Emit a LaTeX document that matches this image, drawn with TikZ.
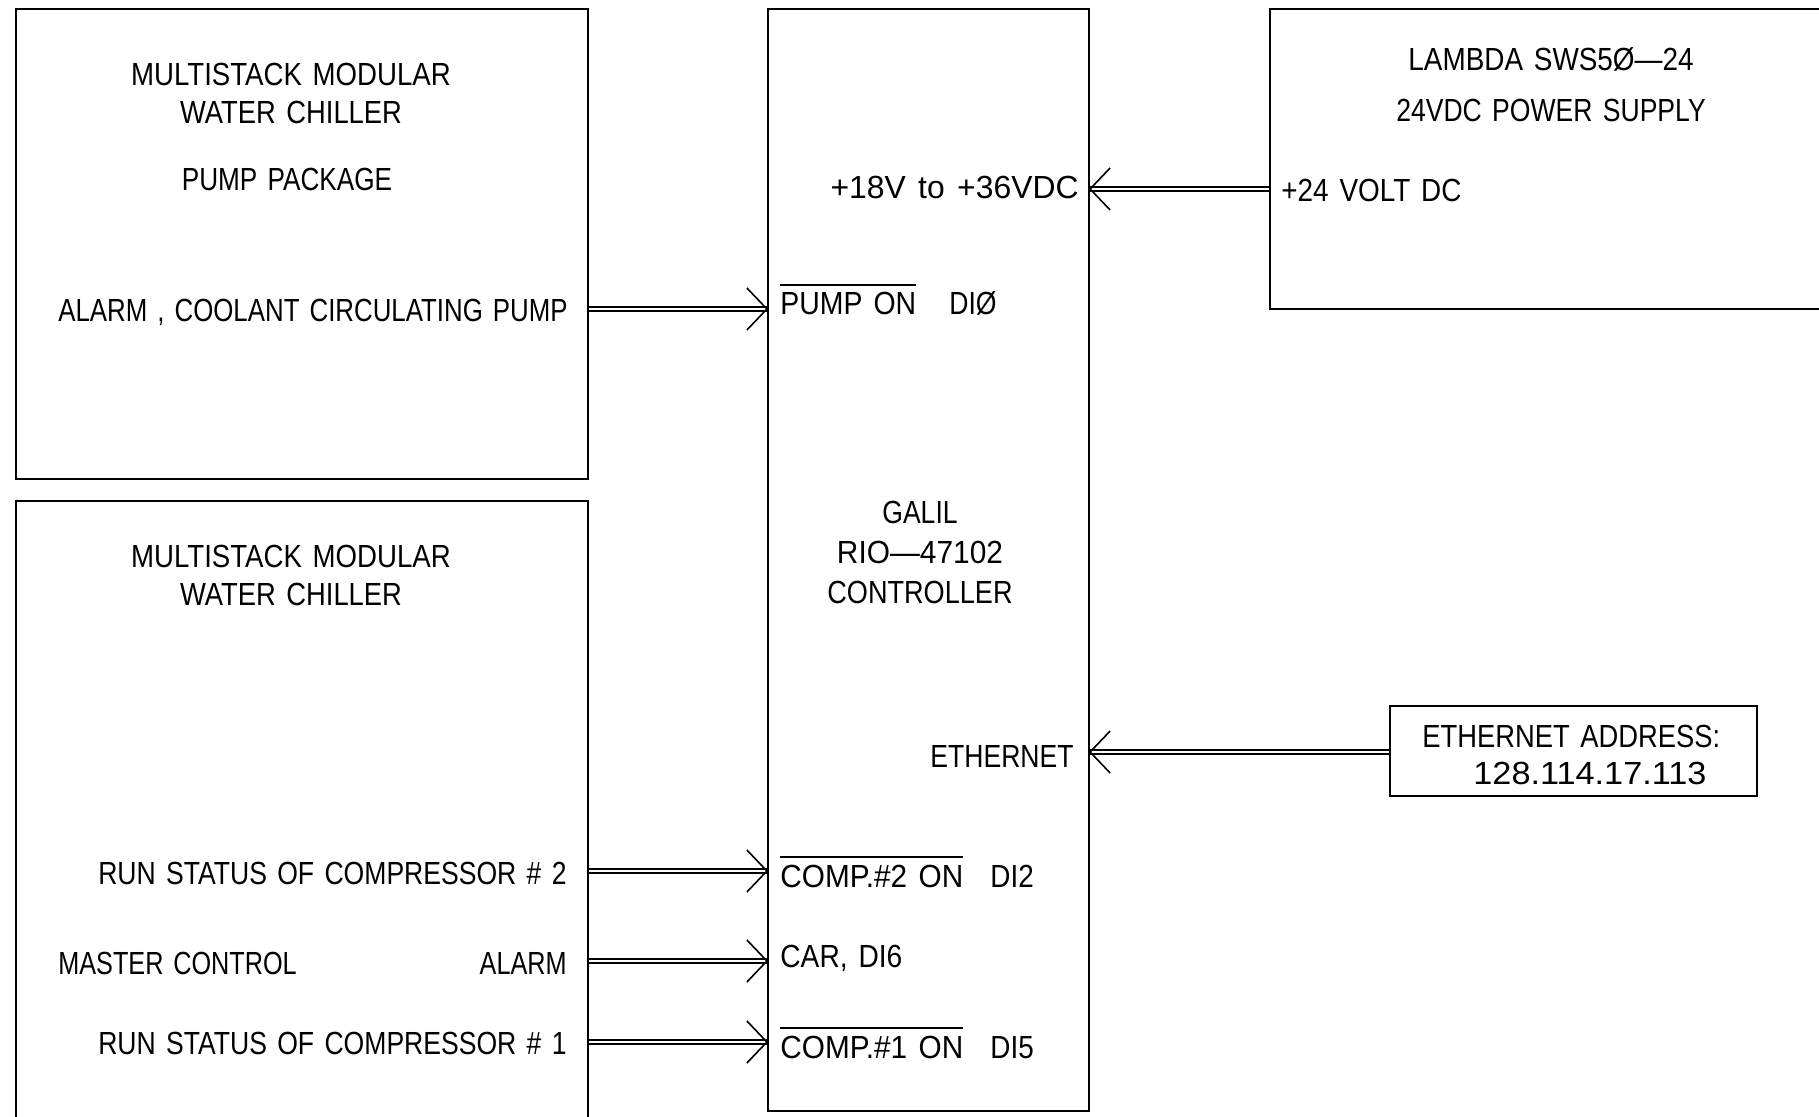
\documentclass[tikz,border=0pt]{standalone}
\usepackage{fontspec}
\setmainfont{Liberation Sans}[FakeStretch=0.83,WordSpace=1.4]
\usetikzlibrary{calc}
\newcommand\ovl[1]{\vbox{\hrule height 0.8pt\kern 3.5pt\hbox{#1}}}
\newcommand\sx[2]{\scalebox{#1}[1]{#2}}
\newcommand\sigarr[3]{%
  \draw[sig] (#1) -- (#2);
  \draw[head] ($(#2)+(#3,-21)$) -- (#2) -- ($(#2)+(#3,21)$);}
\begin{document}
\begin{tikzpicture}[x=0.5pt,y=-0.5pt,
  box/.style={draw,line width=1.1pt,inner sep=0pt,rectangle},
  sig/.style={double,double distance=1.4pt,line width=0.7pt},
  head/.style={line width=0.8pt},
  txt/.style={inner sep=0pt,font=\fontsize{16pt}{19pt}\selectfont}]
\fill[white] (0,0) rectangle (1819,1117);
\useasboundingbox (0,0) rectangle (1819,1117);
\clip (0,0) rectangle (1819,1117);
% boxes
\node[box,minimum width=286pt,minimum height=235pt] (chilA) at (302,244) {};
\node[box,minimum width=286pt,minimum height=329.5pt] (chilB) at (302,830.5) {};
\node[box,minimum width=160.5pt,minimum height=551pt] (ctrl) at (928.5,560) {};
\node[box,minimum width=295pt,minimum height=150pt] (lamb) at (1565,159) {};
\node[box,minimum width=183.5pt,minimum height=45pt] (eth) at (1573.5,751) {};
% texts, chiller A
\node[txt,anchor=base] (t1a) at (291,86) {\sx{1.04}{MULTISTACK MODULAR}};
\node[txt,anchor=base] (t1b) at (291,124) {\sx{1.03}{WATER CHILLER}};
\node[txt,anchor=base] (t1c) at (287,191) {\sx{0.985}{PUMP PACKAGE}};
\node[txt,anchor=base east] (t1d) at (568,322) {\sx{0.973}{ALARM , COOLANT CIRCULATING PUMP}};
% chiller B
\node[txt,anchor=base] (t2a) at (291,567) {\sx{1.04}{MULTISTACK MODULAR}};
\node[txt,anchor=base] (t2b) at (291,605) {\sx{1.03}{WATER CHILLER}};
\node[txt,anchor=base east] (t2c) at (567,884) {RUN STATUS OF COMPRESSOR \# 2};
\node[txt,anchor=base west] (t2d) at (58,974) {\sx{0.95}{MASTER CONTROL}};
\node[txt,anchor=base east] (t2e) at (567,974) {\sx{0.95}{ALARM}};
\node[txt,anchor=base east] (t2f) at (567,1054) {RUN STATUS OF COMPRESSOR \# 1};
% controller
\node[txt,anchor=base east] (c1) at (1079,199) {\sx{1.2}{+18V to +36VDC}};
\node[txt,anchor=base west] (c2) at (780,315) {\ovl{\sx{1.07}{PUMP ON}}};
\node[txt,anchor=base west] (c3) at (949,315) {DIØ};
\node[txt,anchor=base] (c4a) at (920,523) {GALIL};
\node[txt,anchor=base] (c4b) at (920,563) {\sx{1.125}{RIO—47102}};
\node[txt,anchor=base] (c4c) at (920,603) {\sx{1.02}{CONTROLLER}};
\node[txt,anchor=base east] (c5) at (1074,767) {ETHERNET};
\node[txt,anchor=base west] (c6) at (780,887) {\ovl{\sx{1.12}{COMP.\#2 ON}}};
\node[txt,anchor=base west] (c6b) at (990,887) {\sx{1.05}{DI2}};
\node[txt,anchor=base west] (c7) at (780,967) {\sx{1.06}{CAR, DI6}};
\node[txt,anchor=base west] (c8) at (780,1058) {\ovl{\sx{1.12}{COMP.\#1 ON}}};
\node[txt,anchor=base west] (c8b) at (990,1058) {\sx{1.05}{DI5}};
% lambda
\node[txt,anchor=base] (l1) at (1551,71) {\sx{1.05}{LAMBDA SWS5Ø—24}};
\node[txt,anchor=base] (l2) at (1551,122) {24VDC POWER SUPPLY};
\node[txt,anchor=base west] (l3) at (1281,202) {\sx{1.05}{+24 VOLT DC}};
% ethernet address
\node[txt,anchor=base west] (e1) at (1422,747) {\sx{1.03}{ETHERNET ADDRESS:}};
\node[txt,anchor=base west] (e2) at (1473,784) {\sx{1.29}{128.114.17.113}};
% port levels
\coordinate (y1) at (0,309);
\coordinate (y2) at (0,189);
\coordinate (y3) at (0,752);
\coordinate (y4) at (0,871);
\coordinate (y5) at (0,961);
\coordinate (y6) at (0,1042);
\coordinate (p1s) at (chilA.east |- y1); \coordinate (p1e) at (ctrl.west |- y1);
\coordinate (p2s) at (lamb.west |- y2);  \coordinate (p2e) at (ctrl.east |- y2);
\coordinate (p3s) at (eth.west |- y3);   \coordinate (p3e) at (ctrl.east |- y3);
\coordinate (p4s) at (chilB.east |- y4); \coordinate (p4e) at (ctrl.west |- y4);
\coordinate (p5s) at (chilB.east |- y5); \coordinate (p5e) at (ctrl.west |- y5);
\coordinate (p6s) at (chilB.east |- y6); \coordinate (p6e) at (ctrl.west |- y6);
\sigarr{p1s}{p1e}{-20}
\sigarr{p2s}{p2e}{20}
\sigarr{p3s}{p3e}{20}
\sigarr{p4s}{p4e}{-20}
\sigarr{p5s}{p5e}{-20}
\sigarr{p6s}{p6e}{-20}
\end{tikzpicture}
\end{document}
